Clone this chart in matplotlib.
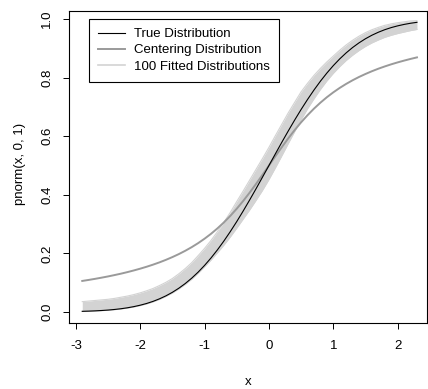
import matplotlib
matplotlib.use('Agg')
from matplotlib import pyplot as plt
from matplotlib.lines import Line2D

plt.rcParams['font.family'] = ['Liberation Sans', 'DejaVu Sans']

# x grid of the curves
x = [-2.9, -2.8, -2.7, -2.6, -2.5, -2.4, -2.3, -2.2, -2.1, -2.0,
     -1.9, -1.8, -1.7, -1.6, -1.5, -1.4, -1.3, -1.2, -1.1, -1.0,
     -0.9, -0.8, -0.7, -0.6, -0.5, -0.4, -0.3, -0.2, -0.1, 0.0,
     0.1, 0.2, 0.3, 0.4, 0.5, 0.6, 0.7, 0.8, 0.9, 1.0,
     1.1, 1.2, 1.3, 1.4, 1.5, 1.6, 1.7, 1.8, 1.9, 2.0,
     2.1, 2.2, 2.3]

# true distribution (black)
true_cdf = [0.0019, 0.0026, 0.0035, 0.0047, 0.0062, 0.0082, 0.0107, 0.0139, 0.0179, 0.0228,
            0.0287, 0.0359, 0.0446, 0.0548, 0.0668, 0.0808, 0.0968, 0.1151, 0.1357, 0.1587,
            0.1841, 0.2119, 0.2420, 0.2743, 0.3085, 0.3446, 0.3821, 0.4207, 0.4602, 0.5000,
            0.5398, 0.5793, 0.6179, 0.6554, 0.6915, 0.7257, 0.7580, 0.7881, 0.8159, 0.8413,
            0.8643, 0.8849, 0.9032, 0.9192, 0.9332, 0.9452, 0.9554, 0.9641, 0.9713, 0.9772,
            0.9821, 0.9861, 0.9893]

# centering distribution (gray)
center_cdf = [0.1057, 0.1092, 0.1129, 0.1169, 0.1211, 0.1257, 0.1305, 0.1358, 0.1415, 0.1476,
              0.1542, 0.1614, 0.1692, 0.1778, 0.1872, 0.1974, 0.2087, 0.2211, 0.2348, 0.2500,
              0.2667, 0.2852, 0.3056, 0.3280, 0.3524, 0.3789, 0.4072, 0.4372, 0.4683, 0.5000,
              0.5317, 0.5628, 0.5928, 0.6211, 0.6476, 0.6720, 0.6944, 0.7148, 0.7333, 0.7500,
              0.7652, 0.7789, 0.7913, 0.8026, 0.8128, 0.8222, 0.8308, 0.8386, 0.8458, 0.8524,
              0.8585, 0.8642, 0.8695]

# envelope of the 100 fitted distributions (light gray band)
fit_upper = [0.035, 0.037, 0.039, 0.041, 0.043, 0.046, 0.050, 0.054, 0.059, 0.065,
             0.072, 0.080, 0.090, 0.101, 0.114, 0.130, 0.148, 0.168, 0.192, 0.217,
             0.244, 0.274, 0.306, 0.340, 0.377, 0.413, 0.450, 0.487, 0.524, 0.562,
             0.602, 0.641, 0.680, 0.716, 0.752, 0.781, 0.808, 0.832, 0.854, 0.874,
             0.894, 0.912, 0.928, 0.942, 0.954, 0.964, 0.972, 0.979, 0.984, 0.988,
             0.991, 0.994, 0.995]
fit_lower = [0.0015, 0.0022, 0.0031, 0.0042, 0.0056, 0.0075, 0.0099, 0.0130, 0.0168, 0.0215,
             0.0273, 0.0343, 0.0428, 0.0528, 0.0645, 0.0782, 0.0938, 0.1115, 0.1315, 0.154,
             0.177, 0.202, 0.228, 0.256, 0.286, 0.317, 0.348, 0.381, 0.415, 0.452,
             0.492, 0.533, 0.575, 0.616, 0.656, 0.694, 0.728, 0.760, 0.789, 0.815,
             0.838, 0.859, 0.877, 0.893, 0.907, 0.919, 0.929, 0.938, 0.945, 0.951,
             0.956, 0.961, 0.965]

x_ticks = [-3, -2, -1, 0, 1, 2]
y_ticks = [0.0, 0.2, 0.4, 0.6, 0.8, 1.0]
labels = ['True Distribution', 'Centering Distribution', '100 Fitted Distributions']

fs = 9.5
fig = plt.figure(figsize=(4.28, 3.89), dpi=100)
ax = fig.add_axes([69/428, 1 - 323/389, 358/428, 312.3/389])

fit_color = '#d3d3d3'
ax.fill_between(x, fit_lower, fit_upper, color=fit_color, linewidth=0)
ax.plot(x, fit_upper, color=fit_color, linewidth=0.8)
ax.plot(x, fit_lower, color=fit_color, linewidth=0.8)
ax.plot(x, center_cdf, color='#9a9a9a', linewidth=1.4)
ax.plot(x, true_cdf, color='black', linewidth=0.8)

ax.set_xlim(-3.106, 2.456)
ax.set_ylim(-0.038, 1.029)
ax.set_xticks(x_ticks)
ax.set_xticklabels([str(t) for t in x_ticks])
ax.set_yticks(y_ticks)
ax.set_yticklabels(['%.1f' % t for t in y_ticks], rotation=90, va='center')
ax.tick_params(direction='out', length=4.3, width=0.7, labelsize=fs, colors='black')
ax.tick_params(axis='x', pad=8)
ax.tick_params(axis='y', pad=7)
for s in ax.spines.values():
    s.set_linewidth(0.8)

fig.text(248/428, 1 - 382/389, 'x', ha='center', va='center', fontsize=fs)
fig.text(20/428, 1 - 164/389, 'pnorm(x, 0, 1)', ha='center', va='center', rotation=90, fontsize=fs)

handles = [Line2D([], [], color='black', linewidth=0.8),
           Line2D([], [], color='#9a9a9a', linewidth=1.4),
           Line2D([], [], color=fit_color, linewidth=1.2)]
leg = ax.legend(handles, labels, loc='upper left', bbox_to_anchor=(20/358, 1 - 8/312.3),
                fontsize=fs, frameon=True, fancybox=False, framealpha=1,
                edgecolor='black', handlelength=2.0, handletextpad=0.7,
                borderpad=0.7, labelspacing=0.3, borderaxespad=0)
leg.get_frame().set_linewidth(0.8)

fig.savefig('out.png', dpi=100)
